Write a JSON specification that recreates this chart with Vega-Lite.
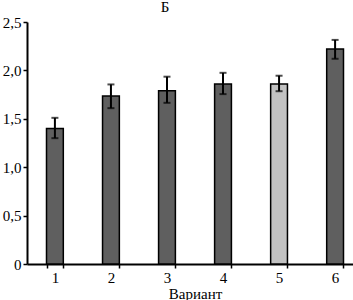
{
  "$schema": "https://vega.github.io/schema/vega-lite/v6.json",
  "autosize": {"type": "none"},
  "padding": {"left": 27, "top": 22, "right": 0, "bottom": 36},
  "width": 336,
  "height": 242,
  "background": "white",
  "title": {"text": "Б", "font": "Liberation Serif", "fontSize": 15, "fontWeight": "normal", "color": "black", "offset": 0, "dx": -30, "anchor": "middle"},
  "data": {"values": [
    {"variant": "1", "value": 1.40, "lo": 1.30, "hi": 1.51, "group": "a"},
    {"variant": "2", "value": 1.735, "lo": 1.61, "hi": 1.855, "group": "a"},
    {"variant": "3", "value": 1.79, "lo": 1.665, "hi": 1.935, "group": "a"},
    {"variant": "4", "value": 1.86, "lo": 1.755, "hi": 1.975, "group": "a"},
    {"variant": "5", "value": 1.86, "lo": 1.785, "hi": 1.945, "group": "b"},
    {"variant": "6", "value": 2.22, "lo": 2.12, "hi": 2.315, "group": "a"}
  ]},
  "encoding": {
    "x": {"field": "variant", "type": "nominal", "title": "Вариант",
      "scale": {"paddingInner": 0.7, "paddingOuter": 0.348},
      "axis": {"labelAngle": 0, "tickBand": "extent", "domainColor": "black", "domainWidth": 2, "tickColor": "black", "tickWidth": 1.5, "tickSize": 4,
        "labelFont": "Liberation Serif", "labelFontSize": 15, "labelColor": "black", "labelPadding": 2,
        "titleFont": "Liberation Serif", "titleFontSize": 15, "titleFontWeight": "normal", "titleColor": "black", "titlePadding": 1}}
  },
  "layer": [
    {
      "mark": {"type": "bar", "stroke": "black", "strokeWidth": 1.5},
      "encoding": {
        "y": {"field": "value", "type": "quantitative", "title": null,
          "scale": {"domain": [0, 2.5], "nice": false},
          "axis": {"values": [0, 0.5, 1, 1.5, 2, 2.5], "grid": false, "domainColor": "black", "domainWidth": 2, "tickColor": "black", "tickWidth": 1.5, "tickSize": 4,
            "labelExpr": "datum.value == 0 ? '0' : replace(format(datum.value, '.1f'), '.', ',')",
            "labelFont": "Liberation Serif", "labelFontSize": 15, "labelColor": "black", "labelPadding": 2}},
        "fill": {"field": "group", "type": "nominal", "legend": null,
          "scale": {"domain": ["a", "b"], "range": ["#5f5f5f", "#c2c2c2"]}}
      }
    },
    {
      "mark": {"type": "rule", "color": "black", "strokeWidth": 2},
      "encoding": {
        "y": {"field": "lo", "type": "quantitative"},
        "y2": {"field": "hi"}
      }
    },
    {
      "mark": {"type": "tick", "color": "black", "thickness": 2, "size": 7},
      "encoding": {"y": {"field": "hi", "type": "quantitative"}}
    },
    {
      "mark": {"type": "tick", "color": "black", "thickness": 2, "size": 7},
      "encoding": {"y": {"field": "lo", "type": "quantitative"}}
    }
  ],
  "config": {"view": {"stroke": null}}
}
